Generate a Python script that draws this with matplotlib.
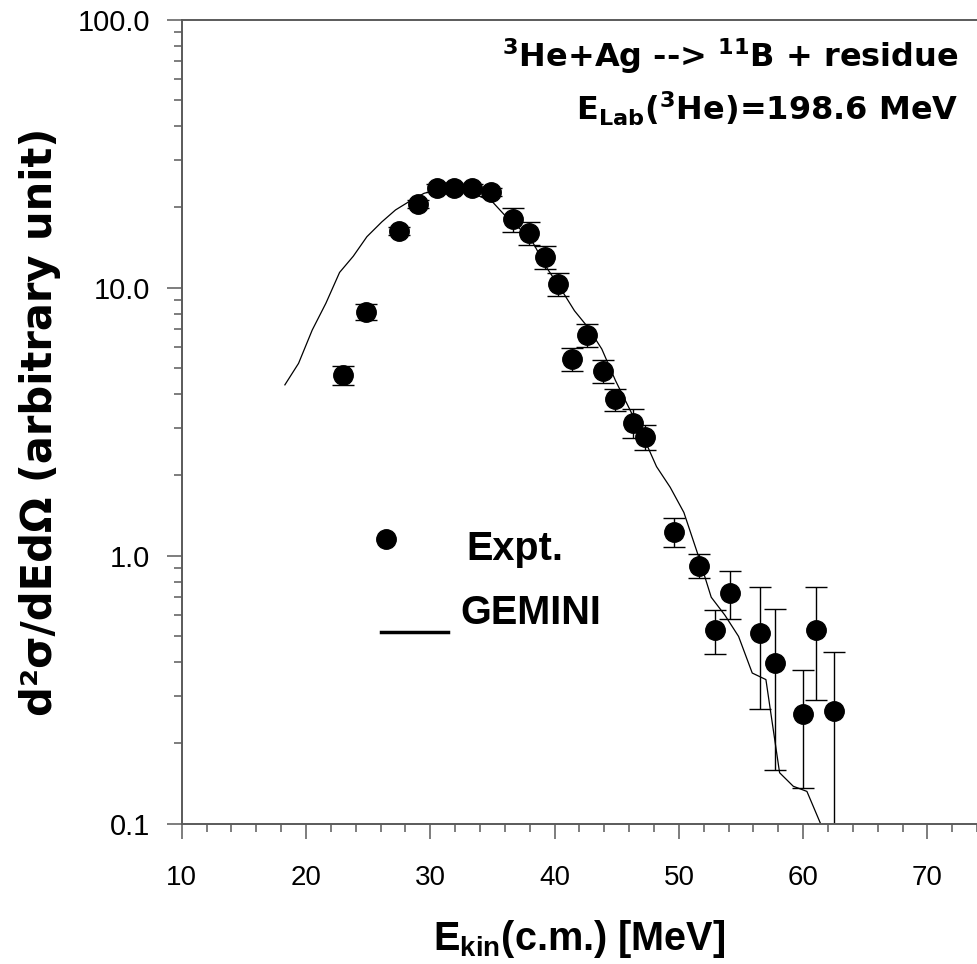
import matplotlib
matplotlib.use("Agg")
import matplotlib.pyplot as plt
from matplotlib.ticker import FixedLocator, MultipleLocator, FixedFormatter, LogLocator, NullFormatter

plt.rcParams["font.family"] = ["Liberation Sans", "DejaVu Sans"]
# math parts (sub/superscripts) use the same font as the surrounding text
plt.rcParams["mathtext.default"] = "regular"

# experimental points (E_kin c.m. in MeV, yield in arbitrary units)
e_expt = [22.98, 24.83, 27.46, 28.99, 30.54, 31.93, 33.36, 34.91, 36.63, 37.94,
          39.20, 40.30, 41.42, 42.58, 43.89, 44.88, 46.28, 47.30, 49.61, 51.59,
          52.90, 54.09, 56.55, 57.71, 59.96, 61.05, 62.45]
y_expt = [4.71, 8.13, 16.3, 20.5, 23.6, 23.6, 23.6, 22.7, 18.0, 16.0,
          13.0, 10.3, 5.43, 6.66, 4.90, 3.83, 3.13, 2.77, 1.23, 0.918,
          0.528, 0.728, 0.515, 0.397, 0.256, 0.528, 0.263]
err_expt = [0.38, 0.55, 0.6, 0.7, 0.8, 0.8, 0.8, 0.8, 1.8, 1.6,
            1.3, 1.0, 0.54, 0.65, 0.48, 0.37, 0.39, 0.30, 0.15, 0.095,
            0.098, 0.148, 0.248, 0.238, 0.12, 0.238, 0.175]

# GEMINI calculation
e_gemini = [18.3, 19.4, 20.5, 21.6, 22.7, 23.8, 24.9, 26.1, 27.2, 28.4,
            29.5, 30.6, 31.7, 32.8, 33.9, 35.0, 36.1, 37.2, 38.3, 39.4,
            40.5, 41.6, 42.7, 43.8, 44.9, 46.0, 47.1, 48.2, 49.3, 50.4,
            51.5, 52.6, 53.7, 54.8, 55.9, 57.0, 58.1, 59.2, 60.3, 61.4, 62.5]
y_gemini = [4.34, 5.22, 6.95, 8.75, 11.4, 13.1, 15.5, 17.6, 19.5, 21.1,
            22.5, 23.2, 23.4, 22.9, 22.0, 20.9, 18.4, 16.6, 14.6, 11.8,
            9.9, 8.2, 7.1, 5.9, 4.5, 3.55, 2.8, 2.15, 1.8, 1.45,
            1.02, 0.70, 0.60, 0.50, 0.365, 0.345, 0.155, 0.138, 0.132, 0.10, 0.06]

y_ticks = [0.1, 1.0, 10.0, 100.0]
y_tick_labels = ["0.1", "1.0", "10.0", "100.0"]
x_ticks = [10, 20, 30, 40, 50, 60, 70]

AXIS_GREY = "#5a5a5a"
WIDE_BOLD = ["DejaVu Sans"]

fig = plt.figure(figsize=(9.78, 9.64), dpi=100)
ax = fig.add_axes([0.1858, 0.1455, 0.8134, 0.8341])

ax.errorbar(e_expt, y_expt, yerr=err_expt, fmt="none", ecolor="black",
            elinewidth=1.0, capsize=8, capthick=1.0, zorder=2)
ax.plot(e_expt, y_expt, "o", color="black", markersize=14, zorder=3)
ax.plot(e_gemini, y_gemini, "-", color="black", linewidth=0.9, zorder=2)

ax.set_yscale("log")
ax.set_xlim(10, 74)
ax.set_ylim(0.1, 100)

ax.xaxis.set_major_locator(FixedLocator(x_ticks))
ax.xaxis.set_minor_locator(MultipleLocator(2))
ax.yaxis.set_major_locator(FixedLocator(y_ticks))
ax.yaxis.set_major_formatter(FixedFormatter(y_tick_labels))
ax.yaxis.set_minor_locator(LogLocator(base=10, subs=range(2, 10)))
ax.yaxis.set_minor_formatter(NullFormatter())

ax.tick_params(which="major", direction="out", length=11, width=1.1,
               color=AXIS_GREY, labelsize=21, pad=12)
ax.tick_params(which="minor", direction="out", length=5.5, width=1.1,
               color=AXIS_GREY)
ax.tick_params(axis="x", which="major", labelsize=20, pad=19)

for side in ("left", "bottom", "top"):
    ax.spines[side].set_color(AXIS_GREY)
    ax.spines[side].set_linewidth(1.4)
ax.spines["right"].set_visible(False)

ax.set_xlabel(r"E$_{kin}$(c.m.) [MeV]", fontsize=28.5, fontweight="bold", labelpad=19)
ax.set_ylabel("d²σ/dEdΩ (arbitrary unit)", fontsize=30, fontweight="bold",
              family=WIDE_BOLD, labelpad=12)

ax.text(0.976, 0.941, r"$^{3}$He+Ag --> $^{11}$B + residue", transform=ax.transAxes,
        ha="right", va="baseline", fontsize=23, fontweight="bold", family=WIDE_BOLD)
ax.text(0.976, 0.874, r"E$_{Lab}$($^{3}$He)=198.6 MeV", transform=ax.transAxes,
        ha="right", va="baseline", fontsize=23, fontweight="bold", family=WIDE_BOLD)

# hand-placed legend
ax.plot([0.2568], [0.354], "o", color="black", markersize=14,
        transform=ax.transAxes, clip_on=False)
ax.text(0.358, 0.328, "Expt.", transform=ax.transAxes, ha="left",
        va="baseline", fontsize=28.5, fontweight="bold")
ax.plot([0.250, 0.335], [0.2388, 0.2388], color="black", linewidth=2.5,
        transform=ax.transAxes)
ax.text(0.350, 0.2484, "GEMINI", transform=ax.transAxes, ha="left",
        va="baseline", fontsize=28.5, fontweight="bold")

fig.savefig("out.png", dpi=100)
